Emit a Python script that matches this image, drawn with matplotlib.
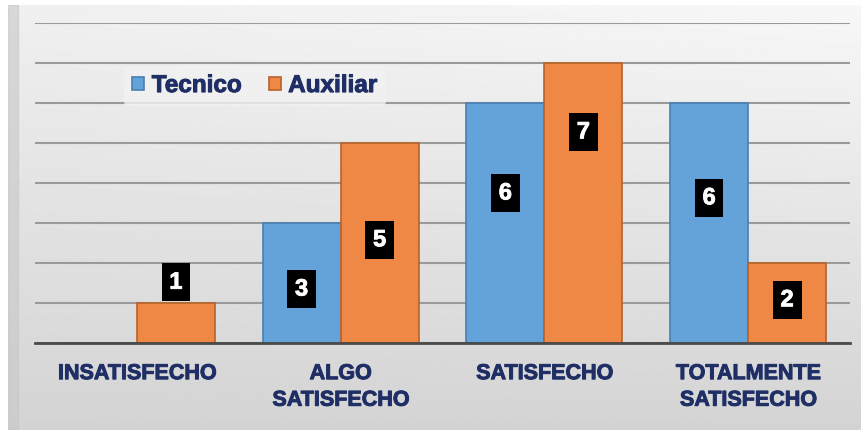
import numpy as np
import matplotlib
matplotlib.use("Agg")
import matplotlib.pyplot as plt
import matplotlib.patheffects as pe

categories = ["INSATISFECHO", "ALGO\nSATISFECHO", "SATISFECHO", "TOTALMENTE\nSATISFECHO"]
tecnico = [0, 3, 6, 6]
auxiliar = [1, 5, 7, 2]
series_names = ["Tecnico", "Auxiliar"]

# label placement (fraction of bar height), layout only
tec_label_frac = [None, 0.45, 0.625, 0.605]
aux_label_frac = [1.52, 0.516, 0.754, 0.54]

W, H = 861, 431
fig = plt.figure(figsize=(W / 100, H / 100), dpi=100)
fig.patch.set_facecolor("white")

# background gradient panel
bg = fig.add_axes([8 / W, 0, 1 - 8 / W, 1 - 6 / H])
yy, xx = np.mgrid[0:1:200j, 0:1:200j]
grad = 0.94 - 0.11 * yy + 0.03 * xx * (1 - yy)
grad = np.clip(grad, 0, 1)
bg.imshow(grad, cmap="gray", vmin=0, vmax=1, aspect="auto", extent=[0, 1, 0, 1], origin="upper")
bg.axvspan(0, 0.012, color="#c8c8c8", alpha=0.6)
bg.set_xlim(0, 1)
bg.set_ylim(0, 1)
bg.axis("off")

left, right = 35 / W, 850 / W
bottom, top = 1 - 344 / H, 1 - 24 / H
ax = fig.add_axes([left, bottom, right - left, top - bottom])
ax.set_facecolor("none")

x = np.arange(len(categories))
bw = 0.383
blue = "#64a2da"
orange = "#ef8844"
ax.bar(x - bw / 2, tecnico, bw, color=blue, edgecolor="#4a7fb0", linewidth=1.2,
       label=series_names[0], zorder=3)
ax.bar(x + bw / 2, auxiliar, bw, color=orange, edgecolor="#b8622a", linewidth=1.2,
       label=series_names[1], zorder=3)

ax.set_xlim(-0.5, len(categories) - 0.5)
ax.set_ylim(0, 8)
ax.set_yticks(np.arange(0, 9, 1))
ax.yaxis.grid(True, color="#9a9a9a", linewidth=1.5, zorder=0)
ax.set_axisbelow(True)
ax.tick_params(axis="y", left=False, labelleft=False)
ax.tick_params(axis="x", bottom=False, pad=11)
for s in ["left", "right", "top"]:
    ax.spines[s].set_visible(False)
ax.spines["bottom"].set_color("#4a4a4a")
ax.spines["bottom"].set_linewidth(2)
ax.spines["bottom"].set_zorder(4)

navy = "#1f2f66"
fam = ["Liberation Sans", "DejaVu Sans"]
thick = [pe.withStroke(linewidth=0.7, foreground=navy)]

ax.set_xticks(x)
ax.set_xticklabels(categories, fontsize=15.5, fontweight="bold", color=navy,
                   family=fam, linespacing=1.35, va="top")
for t in ax.get_xticklabels():
    t.set_path_effects(thick)

def label(xpos, val, frac):
    if frac is None or val == 0:
        return
    t = ax.text(xpos, val * frac, str(val), ha="center", va="center", fontsize=17,
                fontweight="bold", color="white", family=fam,
                bbox=dict(boxstyle="square,pad=0.33", facecolor="black", edgecolor="none"),
                zorder=5)
    t.set_path_effects([pe.withStroke(linewidth=0.6, foreground="white")])

for i in range(len(categories)):
    label(x[i] - bw / 2, tecnico[i], tec_label_frac[i])
    label(x[i] + bw / 2, auxiliar[i], aux_label_frac[i])

leg = ax.legend(loc="upper left", bbox_to_anchor=(0.094, 0.905), ncol=2, frameon=True,
                prop={"family": fam, "weight": "bold", "size": 17.5},
                handlelength=0.5, handleheight=0.5, handletextpad=0.3, columnspacing=1.1,
                borderpad=0.35)
leg.get_frame().set_facecolor("#f2f2f2")
leg.get_frame().set_edgecolor("none")
leg.get_frame().set_alpha(0.8)
for t in leg.get_texts():
    t.set_color(navy)
    t.set_path_effects(thick)

fig.savefig("out.png", dpi=100)
